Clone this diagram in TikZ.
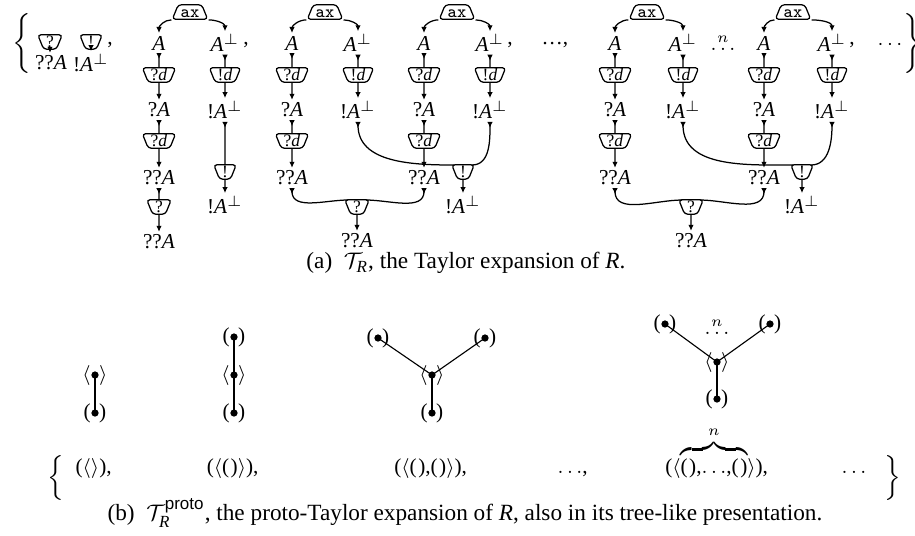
\documentclass[tikz,border=0pt]{standalone}
\usepackage{fontspec}
\setmainfont{Liberation Serif}
\setsansfont{Liberation Sans}
\usetikzlibrary{shapes.geometric,arrows.meta,calc}
\newcommand\dfont{\fontsize{8.5}{10}\selectfont}
\newcommand\cfont{\fontsize{7}{8}\selectfont}
\newcommand\pp{$^\perp$}
\newcommand\A{\textit{A}}
\newcommand\emp{(\kern0.6pt)}
\newcommand\subR{\mbox{\fontsize{6.8}{8}\selectfont\itshape R}}
\tikzset{
 fm/.style={inner sep=1pt, font=\dfont},
 cell/.style={draw, line width=0.5pt, trapezium, shape border rotate=180,
   trapezium left angle=68, trapezium right angle=68, rounded corners=1.3pt,
   inner xsep=1pt, inner ysep=0.6pt, text height=4.3pt, text depth=0.3pt, font=\cfont},
 axcell/.style={cell, shape border rotate=0},
 ed/.style={line width=0.5pt, -{Latex[length=2.4pt,width=2.2pt]}},
 pr/.style={line width=0.5pt, {Latex[reversed,length=2.4pt,width=2.2pt]}-},
 tn/.style={inner sep=0.5pt, font=\dfont},
 tl/.style={line width=0.45pt},
 bf/.style={inner sep=0pt, font=\dfont, anchor=base},
 captext/.style={inner sep=0pt, font=\fontsize{9.3}{11}\selectfont},
 brc/.style={inner sep=0pt},
}
\begin{document}
\begin{tikzpicture}[x=0.4pt,y=-0.4pt]
\path[use as bounding box, fill=white] (0,0) rectangle (915,535);

% ---------- (a) ----------
\node[brc, anchor=west] (lbA) at (12,43) {$\bigg\{$};
\node[cell] (s1) at (50,42) {?};
\node[fm] (s1f) at (51,63) {??\A};
\draw[ed] (s1) -- (s1 |- s1f.north);
\node[cell] (s2) at (91,42) {!};
\node[fm] (s2f) at (91,63) {!\A\pp};
\draw[ed] (s2) -- (s2 |- s2f.north);
\node[fm] (c1) at (110,45) {,};

\foreach \p/\xl/\xr/\xa in {p1/159/225/190, p2/292/358/325, p3/424/490/457, p4/615/683/647, p5/764/832/793}{
  \node[axcell] (\p-ax) at (\xa,12) {\texttt{ax}};
  \node[fm] (\p-A) at (\xl,43) {\A};
  \node[fm] (\p-B) at (\xr,43) {\A\pp};
  \node[cell] (\p-qd1) at (\xl,75) {?\textit{d}};
  \node[cell] (\p-bd) at (\xr,75) {!\textit{d}};
  \node[fm] (\p-qA) at (\xl,110) {?\A};
  \node[fm] (\p-bA) at (\xr,110) {!\A\pp};
  \node[cell] (\p-qd2) at (\xl,141) {?\textit{d}};
  \node[fm] (\p-qqA) at (\xl,178) {??\A};
  \draw[ed] (\p-ax.bottom left corner) to[out=180,in=90] (\p-A);
  \draw[ed] (\p-ax.bottom right corner) to[out=0,in=90] (\p-B);
  \draw[pr] (\p-A) -- (\p-qd1);
  \draw[ed] (\p-qd1) -- (\p-qA);
  \draw[pr] (\p-qA) -- (\p-qd2);
  \draw[ed] (\p-qd2) -- (\p-qqA);
  \draw[pr] (\p-B) -- (\p-bd);
  \draw[ed] (\p-bd) -- (\p-bA);
}

% column 1 bottoms
\node[cell] (p1-q) at (159,207) {?};
\node[fm] (p1-qqB) at (159,242) {??\A};
\draw[pr] (p1-qqA) -- (p1-q);
\draw[ed] (p1-q) -- (p1-qqB);
\node[cell] (p1-bang) at (225,172) {!};
\node[fm] (p1-bB) at (225,205) {!\A\pp};
\draw[pr] (p1-bA) -- (p1-bang);
\draw[ed] (p1-bang) -- (p1-bB);
\node[fm] (c2) at (246,45) {,};

% groups
\foreach \g/\l/\r/\xb/\xq in {g1/p2/p3/463/357, g2/p4/p5/802/691}{
  \node[cell] (\g-bang) at (\xb,172) {!};
  \node[fm] (\g-bB) at (\xb,205) {!\A\pp};
  \node[cell] (\g-q) at (\xq,207) {?};
  \node[fm] (\g-qqB) at (\xq,241) {??\A};
  \draw[ed] (\g-bang) -- (\g-bB);
  \draw[ed] (\g-q) -- (\g-qqB);
  \draw[pr] (\l-bA) to[out=-90,in=180] ($(\g-bang.center)+(-9,-7)$);
  \draw[pr] (\r-bA) to[out=-90,in=0] ($(\g-bang.center)+(9,-7)$);
  \draw[pr] (\l-qqA) to[out=-90,in=180] ($(\g-q.center)+(-9,-7)$);
  \draw[pr] (\r-qqA) to[out=-90,in=0] ($(\g-q.center)+(9,-7)$);
}
\node[fm] (c3) at (510,45) {,};
\node[fm] (d1) at (555,45) {\dots,};
\node[fm] (dn) at (723,42) {$\stackrel{n}{\dots}$};
\node[fm] (c4) at (852,45) {,};
\node[fm] (d2) at (890,45) {$\cdots$};
\node[brc, anchor=west] (rbA) at (903,43) {$\bigg\}$};

\node[captext] (capa) at (466,263) {(a)\enspace$\mathcal{T}_{\subR}$, the Taylor expansion of \textit{R}.};

% ---------- (b) ----------
% tree 1
\node[tn] (t1a) at (95,375) {$\langle\hspace{3.4pt}\rangle$};
\node[tn] (t1b) at (95,413) {(\hspace{3.4pt})};
\draw[tl] (t1a.center) -- (t1b.center);
% tree 2
\node[tn] (t2a) at (234,337) {(\hspace{3.4pt})};
\node[tn] (t2b) at (234,375) {$\langle\hspace{3.4pt}\rangle$};
\node[tn] (t2c) at (234,413) {(\hspace{3.4pt})};
\draw[tl] (t2a.center) -- (t2b.center) -- (t2c.center);
% tree 3
\node[tn] (t3l) at (378,338) {(\hspace{3.4pt})};
\node[tn] (t3r) at (485,338) {(\hspace{3.4pt})};
\node[tn] (t3m) at (432,375) {$\langle\hspace{3.4pt}\rangle$};
\node[tn] (t3b) at (432,413) {(\hspace{3.4pt})};
\draw[tl] (t3l.center) -- (t3m.center) -- (t3r.center);
\draw[tl] (t3m.center) -- (t3b.center);
% tree 4
\node[tn] (t4l) at (665,324) {(\hspace{3.4pt})};
\node[tn] (t4r) at (770,324) {(\hspace{3.4pt})};
\node[tn] (t4m) at (717,362) {$\langle\hspace{3.4pt}\rangle$};
\node[tn] (t4b) at (717,399) {(\hspace{3.4pt})};
\node[tn] (t4n) at (717,326) {$\stackrel{n}{\dots}$};
\draw[tl] (t4l.center) -- (t4m.center) -- (t4r.center);
\draw[tl] (t4m.center) -- (t4b.center);
\foreach \t in {t1a,t1b,t2a,t2b,t2c,t3l,t3r,t3m,t3b,t4l,t4r,t4m,t4b}{
  \fill (\t.center) circle[radius=1.45pt];
}

% formulas
\node[brc, anchor=west] (lbB) at (47,478) {$\Big\{$};
\node[bf] (f1) at (91,473) {($\langle\rangle$)\rlap{,}};
\node[bf] (f2) at (230,473) {($\langle$\emp$\rangle$)\rlap{,}};
\node[bf] (f3) at (428,473) {($\langle$\emp,\emp$\rangle$)\rlap{,}};
\node[bf] (f4) at (570,473) {$\dots$\rlap{,}};
\node[bf] (f5) at (714,473) {($\langle\overbrace{\mbox{\emp,$\dots$,\emp}}^{n}\rangle$)\rlap{,}};
\node[bf] (f6) at (854,473) {$\dots$};
\node[brc, anchor=west] (rbB) at (884,478) {$\Big\}$};

\node[captext] (capb) at (465,513) {(b)\enspace$\mathcal{T}_{\subR}^{\mbox{\fontsize{6.8}{8}\selectfont\sffamily proto}}$, the proto-Taylor expansion of \textit{R}, also in its tree-like presentation.};
\end{tikzpicture}
\end{document}
